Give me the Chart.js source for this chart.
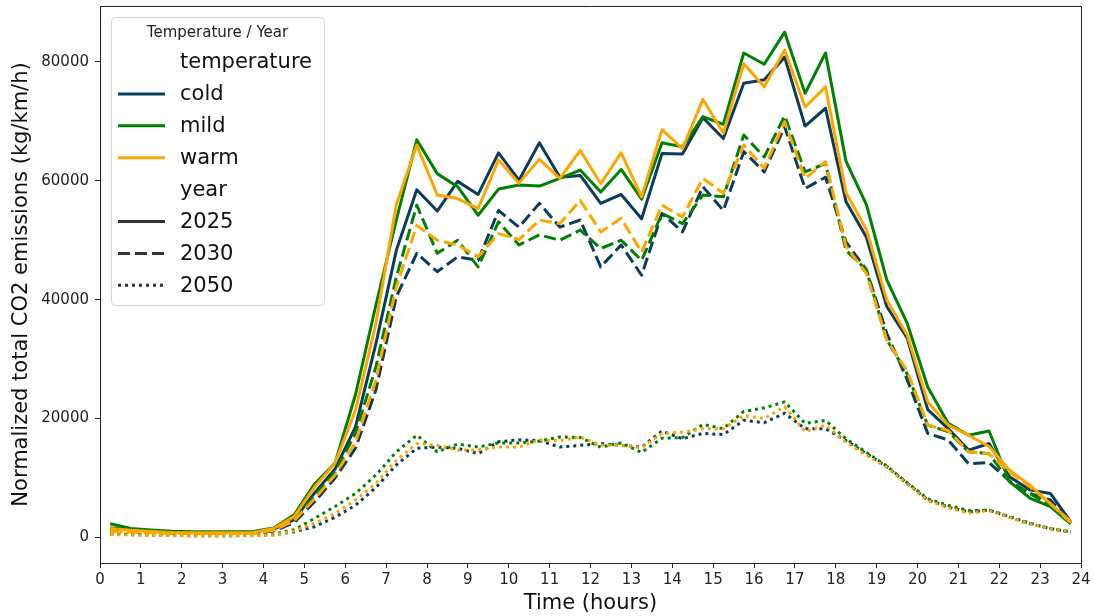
<!DOCTYPE html>
<html>
<head>
<meta charset="utf-8">
<script src="https://cdn.jsdelivr.net/npm/chart.js@4"></script>
<style>
  html, body { margin: 0; padding: 0; background: #fff; }
  #wrap { width: 1093px; height: 616px; }
</style>
</head>
<body>
<div id="wrap"><canvas id="co2Chart" width="1093" height="616"></canvas></div>
<script>
// half-hour time bins (hours)
const hours = [0.25, 0.75, 1.25, 1.75, 2.25, 2.75, 3.25, 3.75, 4.25, 4.75, 5.25, 5.75,
    6.25, 6.75, 7.25, 7.75, 8.25, 8.75, 9.25, 9.75, 10.25, 10.75, 11.25, 11.75,
    12.25, 12.75, 13.25, 13.75, 14.25, 14.75, 15.25, 15.75, 16.25, 16.75, 17.25, 17.75,
    18.25, 18.75, 19.25, 19.75, 20.25, 20.75, 21.25, 21.75, 22.25, 22.75, 23.25, 23.75];

const xTicks = [0, 1, 2, 3, 4, 5, 6, 7, 8, 9, 10, 11, 12, 13, 14, 15, 16, 17, 18, 19, 20, 21, 22, 23, 24];
const yTicks = [0, 20000, 40000, 60000, 80000];

// 2025
const cold2025 = [1600, 1300, 1100, 950, 850, 850, 850, 900, 1400, 3000, 7500, 11500,
    18600, 32600, 48300, 58500, 54900, 59900, 57700, 64700, 60100, 66400, 60600, 60900,
    56200, 57700, 53600, 64600, 64500, 70600, 67100, 76400, 77000, 80800, 69200, 72200,
    56500, 50500, 38800, 33500, 21500, 18300, 14700, 15800, 10200, 8000, 7400, 2600];
const mild2025 = [2300, 1500, 1250, 1050, 950, 950, 950, 1000, 1600, 3800, 9000, 12500,
    24000, 39100, 53400, 66900, 61200, 59000, 54200, 58600, 59300, 59100, 60400, 61800,
    58100, 61900, 56900, 66400, 65700, 70800, 69500, 81500, 79600, 85000, 74700, 81500,
    63300, 56000, 43300, 36000, 25300, 19200, 17200, 17900, 9400, 6600, 5200, 2300];
const warm2025 = [1500, 1200, 1000, 850, 780, 780, 800, 850, 1500, 3500, 8500, 12500,
    21400, 36000, 56000, 66000, 57600, 57000, 55300, 63500, 59600, 63600, 60400, 65100,
    59500, 64700, 57300, 68600, 65400, 73700, 68000, 79700, 75800, 82000, 72400, 75800,
    58000, 51800, 39900, 34000, 22800, 18900, 17200, 15300, 11300, 8800, 5700, 2700];

// 2030
const cold2030 = [1200, 1000, 850, 750, 700, 700, 700, 750, 1100, 2500, 6000, 10000,
    15000, 24800, 40500, 47800, 44700, 47200, 46600, 55000, 52200, 56200, 52200, 53400,
    45500, 49200, 44100, 54500, 51400, 59000, 55000, 64900, 61500, 69100, 58700, 60600,
    49700, 45000, 34300, 26500, 17500, 16400, 12400, 12600, 9500, 7400, 6300, 2500];
const mild2030 = [1500, 1100, 950, 800, 750, 750, 750, 800, 1300, 3000, 7000, 11000,
    17500, 28700, 43800, 55900, 47800, 50000, 45500, 53100, 49200, 50900, 50000, 51700,
    48600, 50000, 46600, 54500, 52800, 57600, 57300, 67700, 64000, 70900, 61500, 62900,
    48300, 45000, 33200, 27500, 18900, 17800, 14400, 14100, 9400, 7400, 5400, 2300];
const warm2030 = [1000, 900, 800, 700, 650, 650, 650, 700, 1200, 2800, 6500, 10500,
    16000, 26500, 42200, 52500, 50000, 49200, 47200, 51100, 50100, 53400, 52800, 56700,
    51400, 53700, 48000, 55900, 53900, 60400, 57900, 66000, 62100, 69900, 60400, 63200,
    49000, 44400, 33200, 28000, 18900, 18000, 14400, 14100, 11000, 8500, 5700, 2500];

// 2050
const cold2050 = [600, 450, 400, 350, 300, 300, 300, 320, 450, 950, 1800, 3400,
    5400, 8400, 12200, 15000, 15200, 15000, 14100, 16100, 16400, 16300, 15200, 15500,
    15800, 15500, 15200, 17900, 16600, 17500, 17300, 19700, 19300, 20900, 18300, 18300,
    16300, 14100, 11900, 9100, 6300, 5100, 4300, 4600, 3500, 2400, 1500, 900];
const mild2050 = [700, 500, 450, 400, 350, 350, 350, 380, 550, 1300, 3200, 5200,
    7400, 10500, 14400, 17200, 14400, 15700, 15200, 15900, 15900, 16200, 16900, 16800,
    15200, 15900, 14300, 16700, 16800, 19000, 18300, 21200, 21800, 22800, 19200, 19700,
    16600, 14300, 12000, 9200, 6500, 5400, 4500, 4600, 3400, 2300, 1500, 900];
const warm2050 = [500, 400, 350, 300, 280, 280, 280, 300, 420, 1100, 2400, 4000,
    6300, 9100, 13000, 15800, 15500, 14700, 14700, 15200, 15200, 16400, 16300, 16900,
    15500, 15500, 15100, 17500, 17700, 18300, 18300, 20500, 20000, 22000, 17800, 18900,
    16000, 13800, 11800, 9000, 6200, 5000, 4100, 4500, 3400, 2300, 1500, 900];

const tempColors = { cold: '#0c3c5c', mild: '#008000', warm: '#ffa500' };
const yearDash = { '2025': [], '2030': [12, 5], '2050': [3, 4] };

const series = [
    { temp: 'cold', year: '2025', values: cold2025 },
    { temp: 'cold', year: '2030', values: cold2030 },
    { temp: 'cold', year: '2050', values: cold2050 },
    { temp: 'mild', year: '2025', values: mild2025 },
    { temp: 'mild', year: '2030', values: mild2030 },
    { temp: 'mild', year: '2050', values: mild2050 },
    { temp: 'warm', year: '2025', values: warm2025 },
    { temp: 'warm', year: '2030', values: warm2030 },
    { temp: 'warm', year: '2050', values: warm2050 }
];

const FONT = "'DejaVu Sans', sans-serif";
const AXIS_COLOR = '#222';

// top and right spines
const framePlugin = {
    id: 'frame',
    afterDraw(chart) {
        const { ctx, chartArea: a } = chart;
        ctx.save();
        ctx.strokeStyle = AXIS_COLOR;
        ctx.lineWidth = 1;
        ctx.beginPath();
        ctx.moveTo(a.left, a.top + 0.5);
        ctx.lineTo(a.right + 0.5, a.top + 0.5);
        ctx.lineTo(a.right + 0.5, a.bottom);
        ctx.stroke();
        ctx.restore();
    }
};

// matplotlib-like legend box in the upper left
const legendPlugin = {
    id: 'mplLegend',
    afterDraw(chart) {
        const { ctx } = chart;
        const box = { x: 111, y: 17, w: 213, h: 288 };
        ctx.save();
        ctx.fillStyle = 'rgba(255,255,255,0.85)';
        ctx.strokeStyle = '#d6d6d6';
        ctx.lineWidth = 1;
        ctx.beginPath();
        ctx.roundRect(box.x + 0.5, box.y + 0.5, box.w, box.h, 4);
        ctx.fill();
        ctx.stroke();

        ctx.fillStyle = '#222';
        ctx.font = '15px ' + FONT;
        ctx.textAlign = 'center';
        ctx.textBaseline = 'middle';
        ctx.fillText('Temperature / Year', box.x + box.w / 2, 33);

        const rows = [
            { text: 'temperature' },
            { text: 'cold', color: tempColors.cold, dash: [] },
            { text: 'mild', color: tempColors.mild, dash: [] },
            { text: 'warm', color: tempColors.warm, dash: [] },
            { text: 'year' },
            { text: '2025', color: '#333', dash: yearDash['2025'] },
            { text: '2030', color: '#333', dash: yearDash['2030'] },
            { text: '2050', color: '#333', dash: yearDash['2050'] }
        ];
        ctx.font = '21px ' + FONT;
        ctx.textAlign = 'left';
        rows.forEach((r, i) => {
            const cy = 62 + i * 31.9;
            if (r.color) {
                ctx.strokeStyle = r.color;
                ctx.lineWidth = 3;
                ctx.setLineDash(r.dash);
                ctx.beginPath();
                ctx.moveTo(118, cy);
                ctx.lineTo(165, cy);
                ctx.stroke();
                ctx.setLineDash([]);
            }
            ctx.fillStyle = '#111';
            ctx.fillText(r.text, 180, cy + 1);
        });
        ctx.restore();
    }
};

const ctx = document.getElementById('co2Chart').getContext('2d');

const co2Chart = new Chart(ctx, {
    type: 'line',
    data: {
        datasets: series.map((s, i) => ({
            label: s.temp + ' ' + s.year,
            data: hours.map((h, j) => ({ x: h, y: s.values[j] })),
            borderColor: tempColors[s.temp],
            borderWidth: 3,
            borderDash: yearDash[s.year],
            borderCapStyle: 'butt',
            borderJoinStyle: 'round',
            pointRadius: 0,
            tension: 0,
            fill: false,
            order: series.length - i
        }))
    },
    options: {
        responsive: false,
        animation: false,
        layout: { padding: { top: 6, right: 12, left: 0, bottom: 0 } },
        plugins: {
            legend: { display: false },
            tooltip: { enabled: false }
        },
        scales: {
            x: {
                type: 'linear',
                min: 0,
                max: 24,
                afterBuildTicks: (scale) => { scale.ticks = xTicks.map(v => ({ value: v })); },
                afterFit: (scale) => {
                    scale.height = 53;
                    scale.paddingLeft = 0;
                    scale.paddingRight = 0;
                },
                ticks: {
                    color: '#222',
                    font: { family: FONT, size: 15 },
                    padding: 3,
                    maxRotation: 0,
                    autoSkip: false,
                    callback: (v) => String(v)
                },
                grid: { display: true, drawOnChartArea: false, drawTicks: true, tickLength: 5, color: AXIS_COLOR },
                border: { display: true, color: AXIS_COLOR, width: 1 },
                title: {
                    display: true,
                    text: 'Time (hours)',
                    color: '#111',
                    font: { family: FONT, size: 21 },
                    padding: { top: 0, bottom: 0 }
                }
            },
            y: {
                type: 'linear',
                min: -4300,
                max: 89400,
                afterBuildTicks: (scale) => { scale.ticks = yTicks.map(v => ({ value: v })); },
                afterFit: (scale) => {
                    scale.width = 100;
                    scale.paddingTop = 0;
                    scale.paddingBottom = 0;
                },
                ticks: {
                    color: '#222',
                    font: { family: FONT, size: 15 },
                    padding: 6,
                    callback: (v) => String(v)
                },
                grid: { display: true, drawOnChartArea: false, drawTicks: true, tickLength: 5, color: AXIS_COLOR },
                border: { display: true, color: AXIS_COLOR, width: 1 },
                title: {
                    display: true,
                    text: 'Normalized total CO2 emissions (kg/km/h)',
                    color: '#111',
                    font: { family: FONT, size: 21 },
                    padding: { top: 9, bottom: 4 }
                }
            }
        }
    },
    plugins: [framePlugin, legendPlugin]
});
</script>
</body>
</html>
